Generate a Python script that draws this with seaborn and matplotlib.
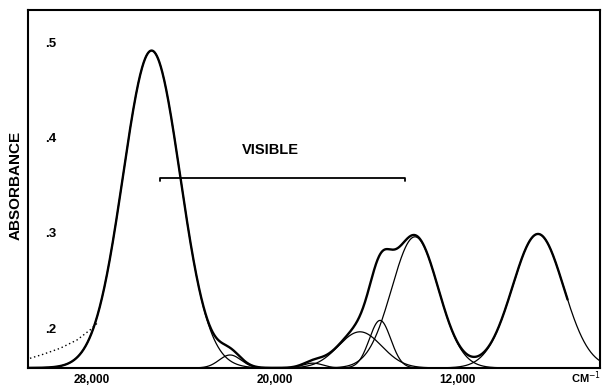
import numpy as np
import pandas as pd
import matplotlib
matplotlib.use("Agg")
import matplotlib.pyplot as plt
import seaborn as sns

# ---- data ----
# Gaussian band components: centre (cm-1), height above baseline (absorbance), width sigma (cm-1)
band_centers = [25390, 21950, 18320, 16260, 15380, 13850, 8460]
band_heights = [0.334, 0.0136, 0.005, 0.038, 0.050, 0.138, 0.141]
band_sigmas = [1250, 480, 440, 950, 470, 1020, 1117]
baseline = 0.158
sum_end = 7150  # the envelope stops here on the right

# dotted (extrapolated) tail at the high-energy side
dotted_wn = [30716, 30146, 29402, 28657, 28088, 27781]
dotted_abs = [0.1681, 0.1723, 0.1786, 0.1874, 0.1979, 0.2049]

# visible region bracket (400 - 700 nm)
visible_wn = [25000, 14286]
visible_level = 0.358

x_ticks = [28000, 24000, 20000, 16000, 12000, 8000]
x_tick_labels = ["28,000", "", "20,000", "", "12,000", ""]
y_ticks = [0.2, 0.3, 0.4, 0.5]
y_tick_labels = [".2", ".3", ".4", ".5"]

# ---- build curves ----
wn = np.linspace(30804, 5744, 1500)
comp_frames = []
total = np.zeros_like(wn)
for i, (c, h, s) in enumerate(zip(band_centers, band_heights, band_sigmas)):
    g = h * np.exp(-0.5 * ((wn - c) / s) ** 2)
    total += g
    comp_frames.append(pd.DataFrame({"wn": wn, "A": baseline + g, "band": f"b{i}"}))
comps = pd.concat(comp_frames, ignore_index=True)
env = pd.DataFrame({"wn": wn, "A": baseline + total})
env = env[env["wn"] >= sum_end]
dotted = pd.DataFrame({"wn": dotted_wn, "A": dotted_abs})

# ---- plot ----
sns.set_style("white")
plt.rcParams["font.family"] = ["Liberation Sans", "DejaVu Sans"]
plt.rcParams["text.color"] = "black"
plt.rcParams["axes.labelcolor"] = "black"
plt.rcParams["xtick.color"] = "black"
plt.rcParams["ytick.color"] = "black"
fig = plt.figure(figsize=(6.05, 3.85), dpi=100)
ax = fig.add_axes([28 / 605, 1 - 368 / 385, 572 / 605, 358 / 385])

sns.lineplot(data=comps, x="wn", y="A", units="band", estimator=None,
             color="black", lw=0.9, ax=ax, sort=False)
sns.lineplot(data=env, x="wn", y="A", color="black", lw=1.7, ax=ax, sort=False)
sns.lineplot(data=dotted, x="wn", y="A", color="black", lw=1.0,
             linestyle=(0, (1, 2)), ax=ax, sort=False)

# visible bracket
ax.plot([visible_wn[0], visible_wn[0], visible_wn[1], visible_wn[1]],
        [visible_level - 0.003, visible_level, visible_level, visible_level - 0.003],
        color="black", lw=1.3)
ax.text(20200, 0.387, "VISIBLE", ha="center", va="center",
        fontsize=10.5, fontweight="bold", color="black")

ax.set_xlim(30804, 5744)
ax.set_ylim(0.1579, 0.5347)

ax.set_xticks(x_ticks)
ax.set_xticklabels(x_tick_labels, fontsize=8.5, fontweight="bold", color="black")
ax.set_yticks(y_ticks)
ax.set_yticklabels(y_tick_labels, fontsize=9.5, fontweight="bold", color="black")
ax.tick_params(axis="x", direction="inout", length=9, width=1.2, pad=-0.5, colors="black")
ax.tick_params(axis="y", direction="in", length=6, width=1.2, pad=-12, colors="black")
for lbl in ax.get_yticklabels():
    lbl.set_horizontalalignment("left")

for sp in ax.spines.values():
    sp.set_color("black")
    sp.set_linewidth(1.5)

ax.set_xlabel("")
ax.set_ylabel("ABSORBANCE", fontsize=11, fontweight="bold", labelpad=2, color="black")
ax.yaxis.set_label_coords(-0.01, 0.51)
fig.text(601 / 605, 1 - 378 / 385, "CM$^{-1}$", ha="right", va="center",
         fontsize=8, fontweight="bold", color="black")
legend = ax.get_legend()
if legend is not None:
    legend.remove()

fig.savefig("out.png", dpi=100)
